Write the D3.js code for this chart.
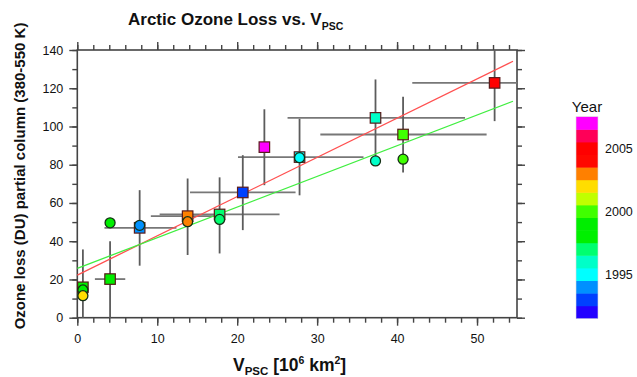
<!DOCTYPE html>
<html>
<head>
<meta charset="utf-8">
<script src="https://cdn.jsdelivr.net/npm/d3@7"></script>
<style>
  html, body { margin: 0; padding: 0; background: #fff; }
  svg { display: block; font-family: "Liberation Sans", Arial, sans-serif; }
</style>
</head>
<body>
<svg id="chart" width="637" height="377"></svg>
<script>
// ---------- data ----------
const colorYears = [1992,1993,1994,1995,1996,1997,1998,1999,2000,2001,2002,2003,2004,2005,2006,2007];
const colorValues = ["#2200ff","#0040ff","#0090ff","#00ffff","#00ffc8","#00ff70","#00f000","#00ee00","#40ff00","#c0ff00","#ffdd00","#ff8000","#ff0800","#ff0000","#ff0058","#ff00ff"];
const colorbarLabels = [1995, 2000, 2005];

// squares with error bars
const sqYear = [1998, 1999, 1994, 2003, 1997, 1993, 2007, 1995, 1996, 2000, 2005];
const sqVpsc = [0.7, 4.1, 7.8, 13.8, 17.8, 20.7, 23.4, 27.8, 37.3, 40.75, 52.2];
const sqLoss = [15.9, 20.2, 47.0, 53.1, 54.0, 65.5, 89.2, 84.0, 104.5, 95.8, 122.8];
const sqVpscLo = [0.7, 2.2, 3.4, 9.2, 10.3, 14.1, 23.4, 20.1, 26.3, 30.4, 41.9];
const sqVpscHi = [0.7, 6.0, 12.4, 18.4, 25.3, 27.3, 23.4, 35.8, 48.5, 51.2, 55.0];
const sqLossLo = [0, 0, 27.2, 32.8, 33.6, 45.8, 69.3, 64.0, 84.0, 76.0, 102.8];
const sqLossHi = [35.7, 40.0, 66.7, 72.8, 73.4, 85.0, 109.0, 104.0, 124.6, 115.5, 140.0];

// circles
const ciYear = [1998, 2002, 1999, 1994, 2003, 1997, 1995, 1996, 2000];
const ciVpsc = [0.7, 0.7, 4.1, 7.8, 13.8, 17.8, 27.8, 37.3, 40.75];
const ciLoss = [14.5, 11.5, 49.6, 48.3, 50.2, 51.4, 83.7, 82.0, 82.9];

// fit lines
const fitRed = [[0, 22.3], [54.5, 134.1]];
const fitGreen = [[0, 25.8], [54.5, 113.2]];

// axis ticks
const xMajor = [0, 10, 20, 30, 40, 50];
const yMajor = [0, 20, 40, 60, 80, 100, 120, 140];

// ---------- drawing ----------
const svg = d3.select("#chart");
const x = d3.scaleLinear().domain([0, 55]).range([77.3, 517]);
const y = d3.scaleLinear().domain([0, 140]).range([317.7, 50]);
const color = d3.scaleOrdinal().domain(colorYears).range(colorValues);

const axisColor = "#444";
const xMinor = d3.range(0, 55.01, 2);
const yMinor = d3.range(0, 140.01, 10);

function styleAxis(g) {
  g.select(".domain").remove();
  g.selectAll(".tick line").attr("stroke", axisColor).attr("stroke-width", 1.4);
  g.selectAll(".tick text").attr("fill", "#111").attr("font-size", 12.5)
    .attr("font-family", "Liberation Sans, Arial, sans-serif");
}

// bottom
svg.append("g").attr("transform", `translate(0,${y(0)})`)
  .call(d3.axisBottom(x).tickValues(xMinor).tickSize(5).tickFormat("")).call(styleAxis);
svg.append("g").attr("transform", `translate(0,${y(0)})`)
  .call(d3.axisBottom(x).tickValues(xMajor).tickSize(8).tickPadding(8).tickFormat(d3.format("d"))).call(styleAxis);
// top
svg.append("g").attr("transform", `translate(0,${y(140)})`)
  .call(d3.axisTop(x).tickValues(xMinor).tickSize(5).tickFormat("")).call(styleAxis);
svg.append("g").attr("transform", `translate(0,${y(140)})`)
  .call(d3.axisTop(x).tickValues(xMajor).tickSize(8).tickFormat("")).call(styleAxis);
// left
svg.append("g").attr("transform", `translate(${x(0)},0)`)
  .call(d3.axisLeft(y).tickValues(yMinor).tickSize(5).tickFormat("")).call(styleAxis);
svg.append("g").attr("transform", `translate(${x(0)},0)`)
  .call(d3.axisLeft(y).tickValues(yMajor).tickSize(8).tickPadding(6).tickFormat(d3.format("d"))).call(styleAxis);
// right
svg.append("g").attr("transform", `translate(${x(55)},0)`)
  .call(d3.axisRight(y).tickValues(yMinor).tickSize(5).tickFormat("")).call(styleAxis);
svg.append("g").attr("transform", `translate(${x(55)},0)`)
  .call(d3.axisRight(y).tickValues(yMajor).tickSize(8).tickFormat("")).call(styleAxis);

// frame
svg.append("rect")
  .attr("x", x(0)).attr("y", y(140))
  .attr("width", x(55) - x(0)).attr("height", y(0) - y(140))
  .attr("fill", "none").attr("stroke", axisColor).attr("stroke-width", 1.6);

// error bars
const sq = sqYear.map((yr, i) => ({
  year: yr, vx: sqVpsc[i], vy: sqLoss[i],
  xlo: sqVpscLo[i], xhi: sqVpscHi[i], ylo: sqLossLo[i], yhi: sqLossHi[i]
}));
const ci = ciYear.map((yr, i) => ({ year: yr, vx: ciVpsc[i], vy: ciLoss[i] }));

const eb = svg.append("g");
eb.selectAll("line.h").data(sq.filter(d => d.xhi > d.xlo)).join("line")
  .attr("x1", d => x(d.xlo)).attr("x2", d => x(d.xhi))
  .attr("y1", d => y(d.vy)).attr("y2", d => y(d.vy))
  .attr("stroke", "#777").attr("stroke-width", 1.8);
eb.selectAll("line.v").data(sq).join("line")
  .attr("x1", d => x(d.vx)).attr("x2", d => x(d.vx))
  .attr("y1", d => y(d.ylo)).attr("y2", d => y(d.yhi))
  .attr("stroke", "#5c5c5c").attr("stroke-width", 1.8);

// fit lines
const line = d3.line().x(d => x(d[0])).y(d => y(d[1]));
svg.append("path").attr("d", line(fitRed)).attr("fill", "none")
  .attr("stroke", "#ff5050").attr("stroke-width", 1.3);
svg.append("path").attr("d", line(fitGreen)).attr("fill", "none")
  .attr("stroke", "#40ee40").attr("stroke-width", 1.3);

// squares
const s = 10.5;
svg.append("g").selectAll("rect").data(sq).join("rect")
  .attr("x", d => x(d.vx) - s / 2).attr("y", d => y(d.vy) - s / 2)
  .attr("width", s).attr("height", s)
  .attr("fill", d => color(d.year))
  .attr("stroke", "#5a1a1a").attr("stroke-width", 1.2);

// circles
svg.append("g").selectAll("circle").data(ci).join("circle")
  .attr("cx", d => x(d.vx)).attr("cy", d => y(d.vy)).attr("r", 5)
  .attr("fill", d => color(d.year))
  .attr("stroke", "#143014").attr("stroke-width", 1.3);

// title
const title = svg.append("text").attr("x", 128).attr("y", 25)
  .attr("font-size", 17).attr("font-weight", "bold").attr("fill", "#111");
title.append("tspan").text("Arctic Ozone Loss vs. V");
title.append("tspan").attr("font-size", 10.5).attr("dy", 5).text("PSC");

// x label
const xl = svg.append("text").attr("x", 233).attr("y", 371)
  .attr("font-size", 17.5).attr("font-weight", "bold").attr("fill", "#111");
xl.append("tspan").text("V");
xl.append("tspan").attr("font-size", 11.5).attr("dy", 4).text("PSC");
xl.append("tspan").attr("dy", -4).text(" [10");
xl.append("tspan").attr("font-size", 10.5).attr("dy", -7).text("6");
xl.append("tspan").attr("dy", 7).text(" km");
xl.append("tspan").attr("font-size", 10.5).attr("dy", -7).text("2");
xl.append("tspan").attr("dy", 7).text("]");

// y label
svg.append("text")
  .attr("transform", "translate(25,176) rotate(-90)")
  .attr("text-anchor", "middle")
  .attr("font-size", 15).attr("font-weight", "bold").attr("fill", "#111")
  .text("Ozone loss (DU) partial column (380-550 K)");

// colorbar
const cb = d3.scaleBand().domain(colorYears.slice().reverse()).range([116.7, 318.3]);
const cbg = svg.append("g");
cbg.selectAll("rect").data(colorYears).join("rect")
  .attr("x", 576).attr("width", 22)
  .attr("y", d => cb(d)).attr("height", cb.bandwidth() + 0.5)
  .attr("fill", d => color(d));
cbg.append("rect").attr("x", 576).attr("y", 116.7).attr("width", 22).attr("height", 318.3 - 116.7)
  .attr("fill", "none").attr("stroke", "#ddd").attr("stroke-width", 0.6);
cbg.selectAll("text.lab").data(colorbarLabels).join("text")
  .attr("x", 605).attr("y", d => cb(d) + cb.bandwidth() / 2 + 4.5)
  .attr("font-size", 12.5).attr("fill", "#111").text(d => d);
svg.append("text").attr("x", 587).attr("y", 112).attr("text-anchor", "middle")
  .attr("font-size", 15).attr("fill", "#111").text("Year");
</script>
</body>
</html>
